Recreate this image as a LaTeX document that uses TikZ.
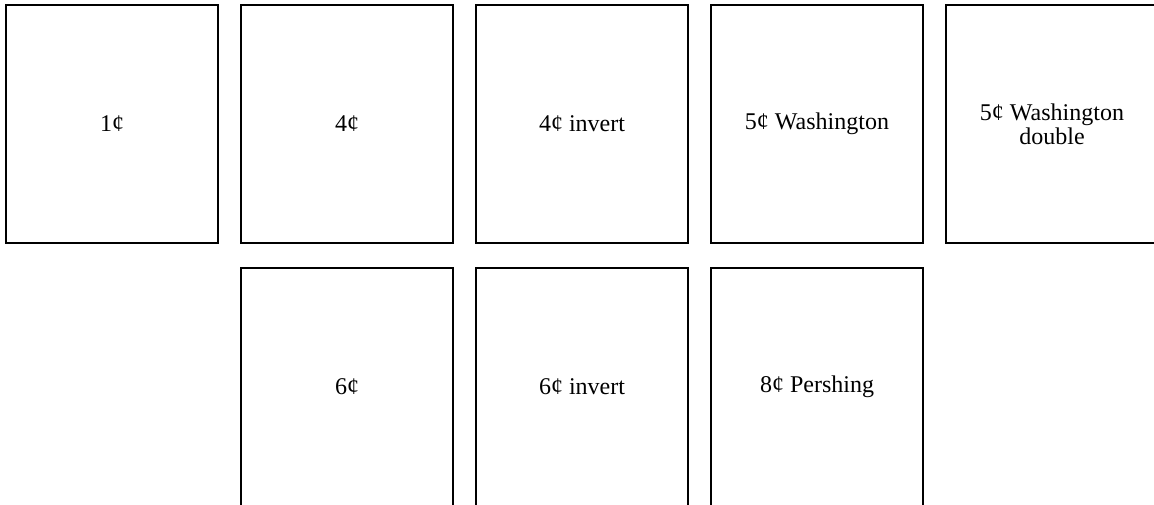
\documentclass[tikz,border=0pt]{standalone}
\usepackage{fontspec}
\setmainfont{Liberation Serif}
\usetikzlibrary{positioning}
\tikzset{
  stampbox/.style={
    draw=black,
    line width=1pt,
    minimum width=106pt,
    minimum height=119pt,
    align=center,
    inner sep=0pt,
    outer sep=0pt,
    font=\fontsize{12}{12.2}\selectfont
  }
}
\begin{document}
\begin{tikzpicture}[node distance=12.5pt and 11.5pt]
  \useasboundingbox (0,0) rectangle (577pt,-252pt);
  \node[stampbox] (one) at (56pt,-62pt) {1¢};
  \node[stampbox, right=of one] (four) {4¢};
  \node[stampbox, right=of four] (fourinv) {4¢ invert};
  \node[stampbox, right=of fourinv] (wash) {5¢ Washington};
  \node[stampbox, right=of wash] (washdbl) {5¢ Washington\\double};

  \node[stampbox, below=of four] (six) {6¢};
  \node[stampbox, below=of fourinv] (sixinv) {6¢ invert};
  \node[stampbox, below=of wash] (persh) {8¢ Pershing};
\end{tikzpicture}
\end{document}
